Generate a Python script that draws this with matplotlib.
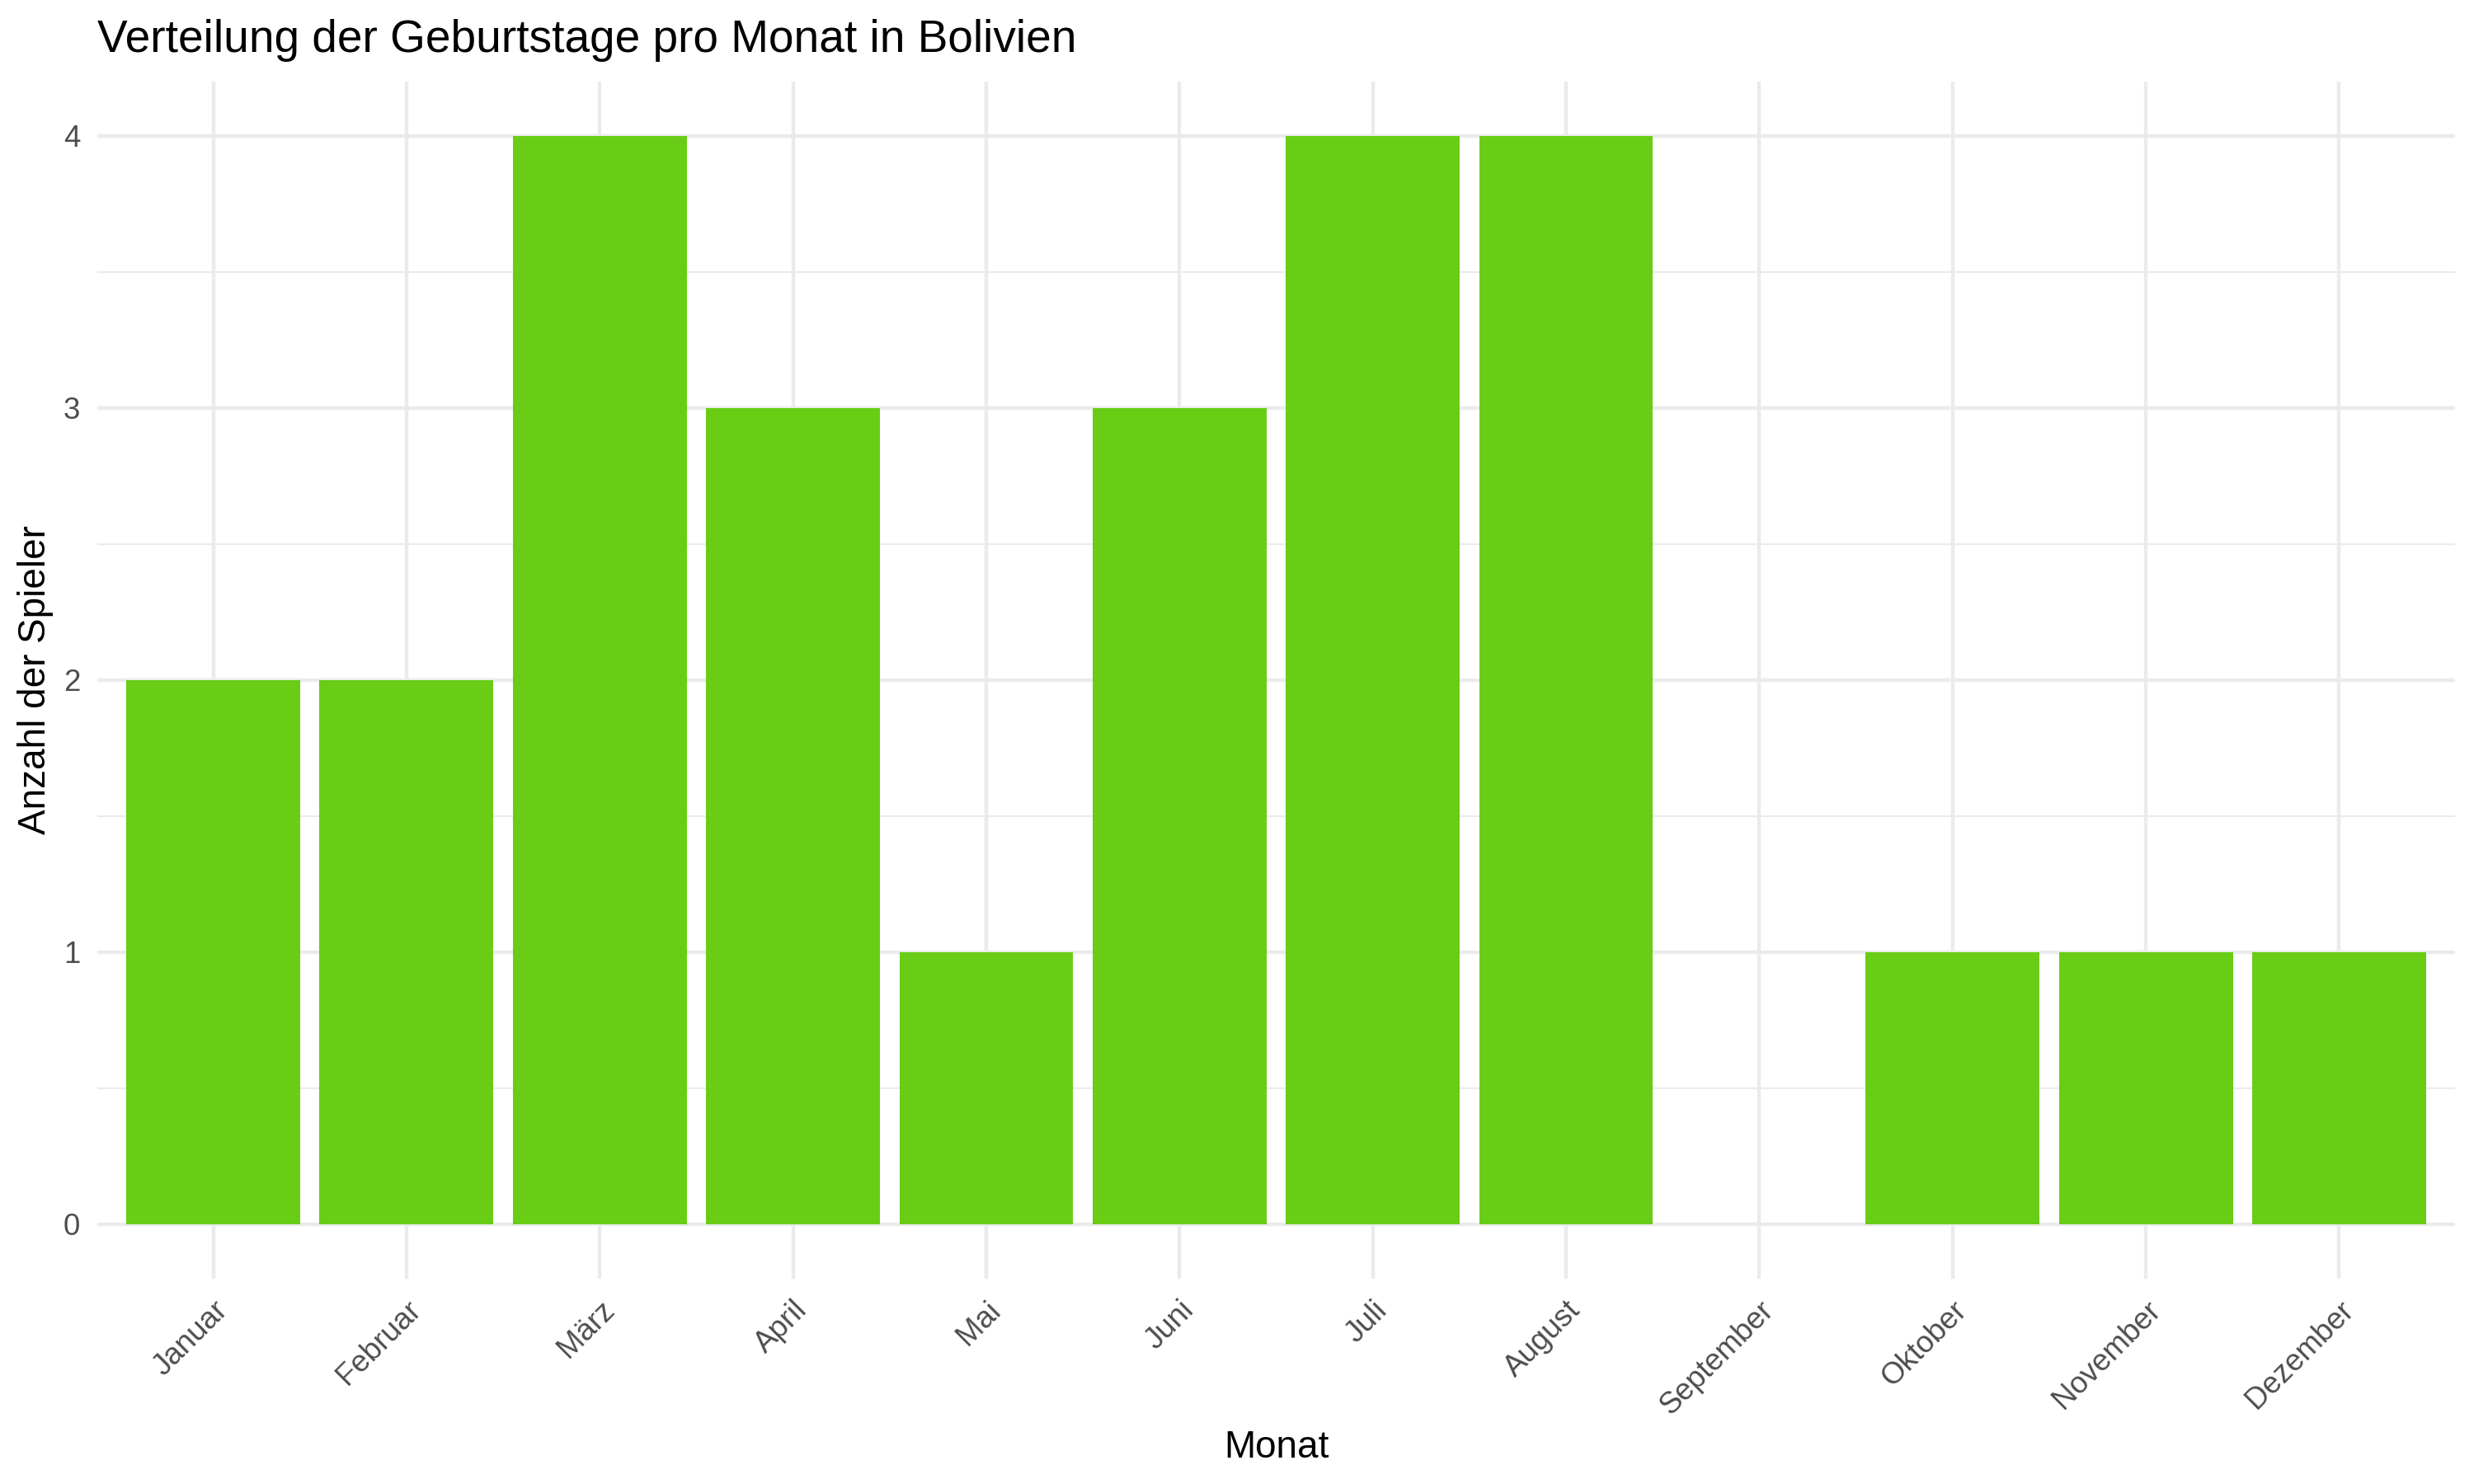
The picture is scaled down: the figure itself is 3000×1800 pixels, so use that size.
import numpy as np
import matplotlib
matplotlib.use("Agg")
import matplotlib.pyplot as plt

# ----------------------------
# Data
# ----------------------------
monate = ["Januar", "Februar", "März", "April", "Mai", "Juni",
          "Juli", "August", "September", "Oktober", "November", "Dezember"]
anzahl = [2, 2, 4, 3, 1, 3, 4, 4, 0, 1, 1, 1]

title = "Verteilung der Geburtstage pro Monat in Bolivien"
x_title = "Monat"
y_title = "Anzahl der Spieler"

# ----------------------------
# Style (ggplot theme_minimal look)
# ----------------------------
plt.rcParams['font.family'] = ['Liberation Sans', 'DejaVu Sans']
bar_color = "#69CD16"
grid_color = "#EBEBEB"
text_grey = "#4D4D4D"

W, H = 3000, 1800
fig = plt.figure(figsize=(10, 6), dpi=300)
ax = fig.add_axes([118 / W, 1 - 1551 / H, (2977 - 118) / W, (1551 - 98.5) / H])

x = np.arange(1, len(monate) + 1)
ax.bar(x, anzahl, width=0.9, color=bar_color, linewidth=0, zorder=3)

ax.set_xlim(0.4, 12.6)
ax.set_ylim(-0.2, 4.2)

ax.set_xticks(x)
ax.set_xticklabels(monate, rotation=45, ha="right", va="top",
                   rotation_mode="anchor")
ax.set_yticks([0, 1, 2, 3, 4])
ax.set_yticks([0.5, 1.5, 2.5, 3.5], minor=True)

# gridlines
for v in x:
    ax.axvline(v, color=grid_color, lw=1.07, zorder=1)
for v in [0, 1, 2, 3, 4]:
    ax.axhline(v, color=grid_color, lw=1.07, zorder=1)
for v in [0.5, 1.5, 2.5, 3.5]:
    ax.axhline(v, color=grid_color, lw=0.53, zorder=1)

for s in ax.spines.values():
    s.set_visible(False)
ax.tick_params(axis="both", which="both", length=0)
ax.tick_params(axis="x", labelsize=8.8, labelcolor=text_grey, pad=4.95)
ax.tick_params(axis="y", labelsize=8.8, labelcolor=text_grey, pad=4.95)

ax.set_xlabel(x_title, fontsize=11, color="black", labelpad=2.75)
ax.set_ylabel(y_title, fontsize=11, color="black", labelpad=2.75)

fig.text(118 / W, 1 - 63 / H, title, fontsize=13.2, color="black",
         ha="left", va="baseline")

fig.savefig("out.png", dpi=300, facecolor="white")
